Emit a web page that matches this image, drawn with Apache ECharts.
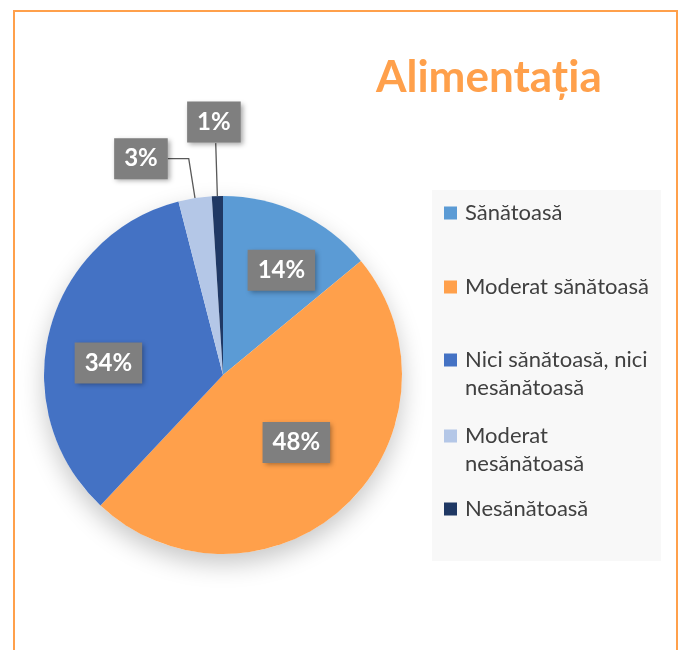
<!DOCTYPE html>
<html>
<head>
<meta charset="utf-8">
<script src="https://cdn.jsdelivr.net/npm/echarts@6/dist/echarts.min.js"></script>
<style>
  html, body { margin: 0; padding: 0; background: #fff; }
  #chart { width: 683px; height: 650px; }
</style>
</head>
<body>
<div id="chart"></div>
<script>
// date
var categories = ['Sănătoasă', 'Moderat sănătoasă', 'Nici sănătoasă, nici nesănătoasă', 'Moderat nesănătoasă', 'Nesănătoasă'];
var values = [14, 48, 34, 3, 1];
var colors = ['#5B9BD5', '#FFA04B', '#4472C4', '#B4C7E7', '#1F3864'];
// texte legenda (rupte pe randuri ca in original)
var legendTexts = ['Sănătoasă', 'Moderat sănătoasă', '\nNici sănătoasă, nici\nnesănătoasă', '\nModerat\nnesănătoasă', 'Nesănătoasă'];

var orange = '#FFA04B';
var font = 'Lato';

// mutari fata de pozitia implicita a etichetelor
var labelShift = [[19, -21], [10, 0], [-25, 11], [0, 0], [25, -21]];
// linii de legatura pentru felii mici: [lungime radiala, lungime orizontala]
var leader = [null, null, null, [40, 21], [53, 0]];
var legendTops = [194, 268, 313, 389, 490];

var chart = echarts.init(document.getElementById('chart'));

var pieData = values.map(function(v, i) {
    var outside = leader[i] != null;
    var d = {
        name: categories[i],
        value: v,
        itemStyle: { color: colors[i] },
        label: { position: outside ? 'outside' : 'inside' },
        labelLine: { show: outside }
    };
    if (outside) {
        d.labelLine.length = leader[i][0];
        d.labelLine.length2 = leader[i][1];
    }
    return d;
});

var legends = categories.map(function(c, i) {
    return {
        data: [c],
        orient: 'vertical',
        left: 439,
        top: legendTops[i],
        icon: 'rect',
        itemWidth: 13,
        itemHeight: 13,
        itemGap: 0,
        selectedMode: false,
        formatter: function() { return legendTexts[i]; },
        textStyle: { color: '#404040', fontSize: 22, fontFamily: font, lineHeight: 28, padding: [0, 0, 0, 3] }
    };
});

var option = {
    animation: false,
    backgroundColor: '#ffffff',
    title: {
        text: 'Alimentația',
        left: 371,
        top: 51,
        textStyle: { color: orange, fontSize: 44, fontWeight: 'bold', fontFamily: font }
    },
    legend: legends,
    graphic: [
        {
            type: 'rect', z: -10, silent: true,
            shape: { x: 14, y: 11, width: 663, height: 700 },
            style: { fill: 'none', stroke: orange, lineWidth: 2 }
        },
        {
            type: 'rect', z: -9, silent: true,
            shape: { x: 432, y: 190, width: 229, height: 371 },
            style: { fill: '#F8F8F8' }
        }
    ],
    series: [
        {
            // umbra de sub placinta
            type: 'pie',
            center: [223, 375],
            radius: 179,
            silent: true,
            z: 1,
            label: { show: false },
            labelLine: { show: false },
            data: [{ value: 1, name: '' }],
            itemStyle: { color: '#ffffff', shadowBlur: 25, shadowOffsetY: 10, shadowColor: 'rgba(0,0,0,0.22)' }
        },
        {
            type: 'pie',
            center: [223, 375],
            radius: 179,
            startAngle: 90,
            clockwise: true,
            avoidLabelOverlap: false,
            z: 2,
            data: pieData,
            label: {
                show: true,
                formatter: '{c}%',
                color: '#ffffff',
                fontSize: 24,
                lineHeight: 23,
                fontWeight: 'bold',
                fontFamily: font,
                backgroundColor: '#7F7F7F',
                padding: [9, 10],
                distanceToLabelLine: 0,
                shadowBlur: 5,
                shadowOffsetX: 2,
                shadowOffsetY: 2,
                shadowColor: 'rgba(0,0,0,0.35)'
            },
            labelLine: {
                minTurnAngle: 0,
                lineStyle: { color: '#595959', width: 1.3 }
            },
            labelLayout: function(p) {
                var s = labelShift[p.dataIndex];
                return { dx: s[0], dy: s[1] };
            },
            emphasis: { disabled: true }
        }
    ]
};

chart.setOption(option);
</script>
</body>
</html>
